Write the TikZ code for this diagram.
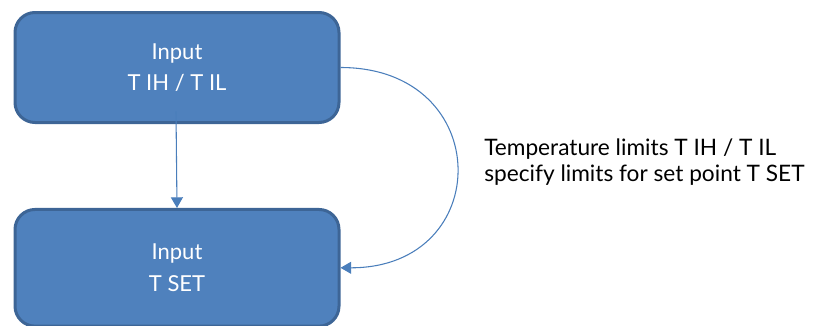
\documentclass[tikz,border=0pt]{standalone}
\usepackage{fontspec}
\setmainfont{Lato}
\usetikzlibrary{arrows.meta}
\definecolor{boxfill}{HTML}{4F81BD}
\definecolor{boxline}{HTML}{3D6596}
\definecolor{arrowcol}{HTML}{4A7EBB}
\tikzset{
  inputbox/.style={draw=boxline, fill=boxfill, line width=2.25pt, rounded corners=15pt,
    minimum width=243pt, minimum height=82.5pt, text=white, align=center,
    font=\fontsize{16.5}{23.5}\selectfont},
  conn/.style={draw=arrowcol, line width=0.8pt, -{Triangle[width=9pt,length=8pt]}},
  note/.style={align=left, anchor=west, inner sep=0pt, font=\fontsize{17}{19}\selectfont}
}
\begin{document}
\begin{tikzpicture}[x=0.75pt, y=-0.75pt]
\useasboundingbox (0,0) rectangle (824,325);
\node[inputbox] (a) at (177,67.5) {Input\\T IH / T IL};
\node[inputbox, minimum height=87.5pt] (b) at (177,267.8) {Input\\T SET};
\node[note] (t) at (484,162) {Temperature limits T IH / T IL\\specify limits for set point T SET};
\draw[conn] ([xshift=-0.75pt,yshift=9.4pt]a.south) -- (b.north);
\draw[conn] (a.east) .. controls +(155,0) and +(155,0) .. (b.east);
\end{tikzpicture}
\end{document}
